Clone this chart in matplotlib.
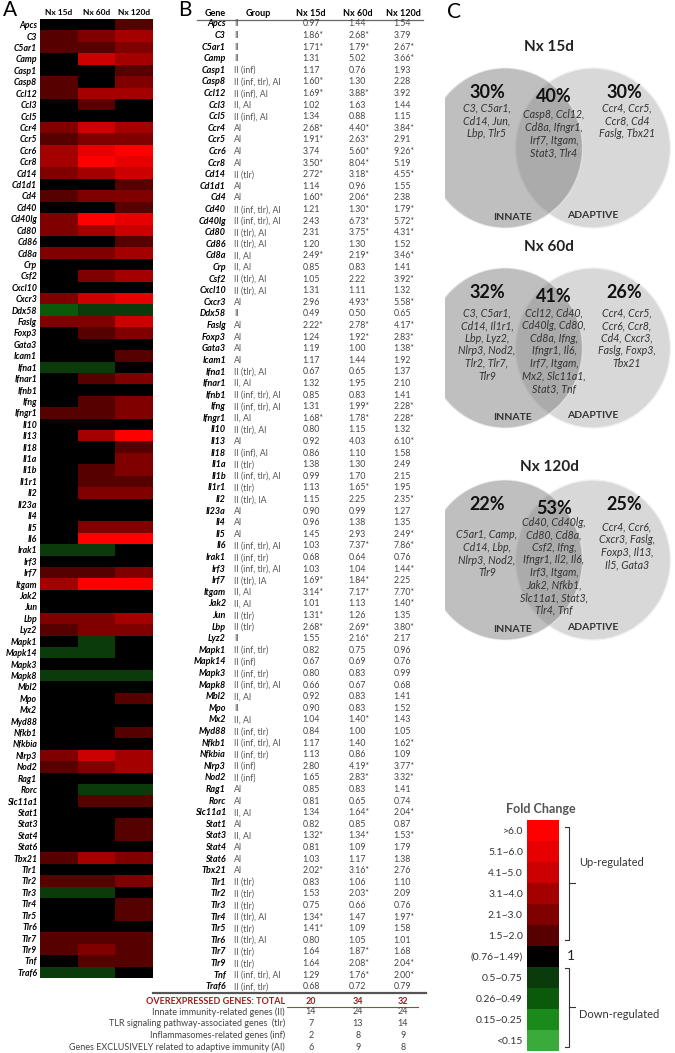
import numpy as np
import matplotlib
matplotlib.use('Agg')
import matplotlib.pyplot as plt
from matplotlib.colors import ListedColormap, BoundaryNorm
from matplotlib.patches import Ellipse

plt.rcParams['font.family'] = ['Lato', 'DejaVu Sans']

W, H = 675, 1053

# ---- data (panel A / B) ----
genes = ['Apcs', 'C3', 'C5ar1', 'Camp', 'Casp1', 'Casp8', 'Ccl12', 'Ccl3', 'Ccl5', 'Ccr4',
         'Ccr5', 'Ccr6', 'Ccr8', 'Cd14', 'Cd1d1', 'Cd4', 'Cd40', 'Cd40lg', 'Cd80', 'Cd86',
         'Cd8a', 'Crp', 'Csf2', 'Cxcl10', 'Cxcr3', 'Ddx58', 'Faslg', 'Foxp3', 'Gata3', 'Icam1',
         'Ifna1', 'Ifnar1', 'Ifnb1', 'Ifng', 'Ifngr1', 'Il10', 'Il13', 'Il18', 'Il1a', 'Il1b',
         'Il1r1', 'Il2', 'Il23a', 'Il4', 'Il5', 'Il6', 'Irak1', 'Irf3', 'Irf7', 'Itgam',
         'Jak2', 'Jun', 'Lbp', 'Lyz2', 'Mapk1', 'Mapk14', 'Mapk3', 'Mapk8', 'Mbl2', 'Mpo',
         'Mx2', 'Myd88', 'Nfkb1', 'Nfkbia', 'Nlrp3', 'Nod2', 'Rag1', 'Rorc', 'Slc11a1', 'Stat1',
         'Stat3', 'Stat4', 'Stat6', 'Tbx21', 'Tlr1', 'Tlr2', 'Tlr3', 'Tlr4', 'Tlr5', 'Tlr6',
         'Tlr7', 'Tlr9', 'Tnf', 'Traf6']

groups = ['II', 'II', 'II', 'II', 'II (inf)', 'II (inf, tlr), AI', 'II (inf), AI', 'II, AI', 'II (inf), AI', 'AI',
          'AI', 'AI', 'AI', 'II (tlr)', 'AI', 'AI', 'II (inf, tlr), AI', 'II (inf, tlr), AI', 'II (tlr), AI', 'II (tlr), AI',
          'II, AI', 'II, AI', 'II (tlr), AI', 'II (tlr), AI', 'AI', 'II', 'AI', 'AI', 'AI', 'AI',
          'II (tlr), AI', 'II, AI', 'II (inf, tlr), AI', 'II (inf, tlr), AI', 'II, AI', 'II (tlr), AI', 'AI', 'II (inf), AI', 'II (tlr)', 'II (inf, tlr), AI',
          'II (tlr)', 'II (tlr), IA', 'AI', 'AI', 'AI', 'II (inf, tlr), AI', 'II (inf, tlr)', 'II (inf, tlr), AI', 'II (tlr), IA', 'II, AI',
          'II, AI', 'II (tlr)', 'II (tlr)', 'II', 'II (inf, tlr)', 'II (inf)', 'II (inf, tlr)', 'II (inf, tlr), AI', 'II, AI', 'II',
          'II, AI', 'II (inf, tlr)', 'II (inf, tlr), AI', 'II (inf, tlr)', 'II (inf)', 'II (inf)', 'AI', 'AI', 'II, AI', 'AI',
          'II, AI', 'AI', 'AI', 'AI', 'II (tlr)', 'II (tlr)', 'II (tlr)', 'II (tlr), AI', 'II (tlr)', 'II (tlr), AI',
          'II (tlr)', 'II (tlr)', 'II (inf, tlr), AI', 'II (inf, tlr)']

# fold change, '*' = significant
nx15 = ['0.97', '1.86*', '1.71*', '1.31', '1.17', '1.60*', '1.69*', '1.02', '1.34', '2.68*',
        '1.91*', '3.74', '3.50*', '2.72*', '1.14', '1.60*', '1.21', '2.43', '2.31', '1.20',
        '2.49*', '0.85', '1.05', '1.31', '2.96', '0.49', '2.22*', '1.24', '1.19', '1.17',
        '0.67', '1.32', '0.85', '1.31', '1.68*', '0.80', '0.92', '0.86', '1.38', '0.99',
        '1.13', '1.15', '0.90', '0.96', '1.45', '1.03', '0.68', '1.03', '1.69*', '3.14*',
        '1.01', '1.31*', '2.68*', '1.55', '0.82', '0.67', '0.80', '0.66', '0.92', '0.90',
        '1.04', '0.84', '1.17', '1.13', '2.80', '1.65', '0.85', '0.81', '1.34', '0.82',
        '1.32*', '0.81', '1.03', '2.02*', '0.83', '1.53', '0.75', '1.34*', '1.41*', '0.80',
        '1.64', '1.64', '1.29', '0.68']
nx60 = ['1.44', '2.68*', '1.79*', '5.02', '0.76', '1.30', '3.88*', '1.63', '0.88', '4.40*',
        '2.63*', '5.60*', '8.04*', '3.18*', '0.96', '2.06*', '1.30*', '6.73*', '3.75*', '1.30',
        '2.19*', '0.83', '2.22', '1.11', '4.93*', '0.50', '2.78*', '1.92*', '1.00', '1.44',
        '0.65', '1.95', '0.83', '1.99*', '1.78*', '1.15', '4.03', '1.10', '1.30', '1.70',
        '1.65*', '2.25', '0.99', '1.38', '2.93', '7.37*', '0.64', '1.04', '1.84*', '7.17*',
        '1.13', '1.26', '2.69*', '2.16*', '0.75', '0.69', '0.83', '0.67', '0.83', '0.83',
        '1.40*', '1.00', '1.40', '0.86', '4.19*', '2.83*', '0.83', '0.65', '1.64*', '0.85',
        '1.34*', '1.09', '1.17', '3.16*', '1.06', '2.03*', '0.66', '1.47', '1.09', '1.05',
        '1.87*', '2.08*', '1.76*', '0.72']
nx120 = ['1.54', '3.79', '2.67*', '3.66*', '1.93', '2.28', '3.92', '1.44', '1.15', '3.84*',
         '2.91', '9.26*', '5.19', '4.55*', '1.55', '2.38', '1.79*', '5.72*', '4.31*', '1.52',
         '3.46*', '1.41', '3.92*', '1.32', '5.58*', '0.65', '4.17*', '2.83*', '1.38*', '1.92',
         '1.37', '2.10', '1.41', '2.28*', '2.28*', '1.32', '6.10*', '1.58', '2.49', '2.15',
         '1.95', '2.35*', '1.27', '1.35', '2.49*', '7.86*', '0.76', '1.44*', '2.25', '7.70*',
         '1.40*', '1.35', '3.80*', '2.17', '0.96', '0.76', '0.99', '0.68', '1.41', '1.52',
         '1.43', '1.05', '1.62*', '1.09', '3.77*', '3.32*', '1.41', '0.74', '2.04*', '0.87',
         '1.53*', '1.79', '1.38', '2.76', '1.10', '2.09', '0.76', '1.97*', '1.58', '1.01',
         '1.68', '2.04*', '2.00*', '0.79']

time_points = ['Nx 15d', 'Nx 60d', 'Nx 120d']
total_over = [20, 34, 32]
summary_labels = ['Innate immunity-related genes (II)',
                  'TLR signaling pathway-associated genes  (tlr)',
                  'Inflammasomes-related genes (inf)',
                  'Genes EXCLUSIVELY related to adaptive immunity (AI)']
summary_vals = [[14, 24, 24], [7, 13, 14], [2, 8, 9], [6, 9, 8]]

# fold change scale (low -> high)
fc_edges = [0, 0.15, 0.255, 0.495, 0.755, 1.495, 2.05, 3.05, 4.05, 5.05, 6.0, 100]
fc_colors = ['#3aaa3a', '#1a8a1a', '#0b5a0b', '#0b3a0b', '#000000',
             '#560000', '#800000', '#a50000', '#cc0000', '#e60000', '#ff0000']
fc_labels = ['<0.15', '0.15~0.25', '0.26~0.49', '0.5~0.75', '(0.76~1.49)',
             '1.5~2.0', '2.1~3.0', '3.1~4.0', '4.1~5.0', '5.1~6.0', '>6.0']

# ---- data (panel C) ----
venn_pct = [(30, 40, 30), (32, 41, 26), (22, 53, 25)]
venn_innate = [['C3, C5ar1,', 'Cd14, Jun,', 'Lbp, Tlr5'],
               ['C3, C5ar1,', 'Cd14, Il1r1,', 'Lbp, Lyz2,', 'Nlrp3, Nod2,', 'Tlr2, Tlr7,', 'Tlr9'],
               ['C5ar1, Camp,', 'Cd14, Lbp,', 'Nlrp3, Nod2,', 'Tlr9']]
venn_both = [['Casp8, Ccl12,', 'Cd8a, Ifngr1,', 'Irf7, Itgam,', 'Stat3, Tlr4'],
             ['Ccl12, Cd40,', 'Cd40lg, Cd80,', 'Cd8a, Ifng,', 'Ifngr1, Il6,', 'Irf7, Itgam,',
              'Mx2, Slc11a1,', 'Stat3, Tnf'],
             ['Cd40, Cd40lg,', 'Cd80, Cd8a,', 'Csf2, Ifng,', 'Ifngr1, Il2, Il6,', 'Irf3, Itgam,',
              'Jak2, Nfkb1,', 'Slc11a1, Stat3,', 'Tlr4, Tnf']]
venn_adaptive = [['Ccr4, Ccr5,', 'Ccr8, Cd4', 'Faslg, Tbx21'],
                 ['Ccr4, Ccr5,', 'Ccr6, Ccr8,', 'Cd4, Cxcr3,', 'Faslg, Foxp3,', 'Tbx21'],
                 ['Ccr4, Ccr6,', 'Cxcr3, Faslg,', 'Foxp3, Il13,', 'Il5, Gata3']]


def px(x, y, w, h):
    return [x / W, 1 - (y + h) / H, w / W, h / H]


fig = plt.figure(figsize=(W / 100, H / 100), dpi=100)
fig.patch.set_facecolor('white')

ov = fig.add_axes([0, 0, 1, 1])
ov.set_xlim(0, W)
ov.set_ylim(H, 0)
ov.axis('off')

cmap = ListedColormap(fc_colors)
norm = BoundaryNorm(fc_edges, cmap.N)

# ---- A: heatmap ----
vals = np.array([[float(s.rstrip('*')) for s in col] for col in (nx15, nx60, nx120)]).T
hm = fig.add_axes(px(40, 19, 113, 959))
hm.pcolormesh(vals, cmap=cmap, norm=norm)
hm.set_xlim(0, 3)
hm.set_ylim(len(genes), 0)
hm.set_yticks(np.arange(len(genes)) + 0.5, genes, fontsize=6.3,
              fontweight='bold', fontstyle='italic')
hm.xaxis.tick_top()
hm.set_xticks([0.5, 1.5, 2.5], time_points, fontsize=6, fontweight='bold')
hm.tick_params(length=0, pad=2)
for s in hm.spines.values():
    s.set_visible(False)

ov.text(3, 10, 'A', fontsize=15, va='center')
ov.text(178, 10, 'B', fontsize=15, va='center')
ov.text(447, 12, 'C', fontsize=15, va='center')

# ---- B: table ----
ov.text(226, 14, 'Gene', ha='right', va='center', fontsize=6.5, weight='bold')
ov.text(258, 14, 'Group', ha='center', va='center', fontsize=6.5, weight='bold')
for x, t in zip([311, 358, 403], time_points):
    ov.text(x, 14, t, ha='center', va='center', fontsize=6.5, weight='bold')
ov.plot([197, 423], [20, 20], color='#666666', lw=0.9)

row_y = 24 + np.arange(len(genes)) * 11.6
val_x = [302.5, 348.5, 393.5]
for i, g in enumerate(genes):
    y = row_y[i]
    ov.text(226, y, g, ha='right', va='center', fontsize=6.5, weight='bold', style='italic')
    ov.text(234, y, groups[i], ha='left', va='center', fontsize=6.3, color='#555555')
    for x, col in zip(val_x, (nx15, nx60, nx120)):
        ov.text(x, y, col[i], ha='left', va='center', fontsize=6.3, color='#444444')

ov.plot([153, 426], [993, 993], color='#555555', lw=1.6)
ov.text(285, 1001, 'OVEREXPRESSED GENES: TOTAL', ha='right', va='center',
        fontsize=6.5, weight='bold', color='#9e1b1b')
for x, v in zip([311, 358, 403], total_over):
    ov.text(x, 1001, str(v), ha='center', va='center', fontsize=6.5, weight='bold', color='#9e1b1b')
ov.plot([287, 418], [1006.5, 1006.5], color='#b04040', lw=0.8)
for k, (lab, sv) in enumerate(zip(summary_labels, summary_vals)):
    y = 1012 + k * 11.7
    ov.text(285, y, lab, ha='right', va='center', fontsize=6.5, color='#444444')
    for x, v in zip([311, 358, 403], sv):
        ov.text(x, y, str(v), ha='center', va='center', fontsize=6.5, color='#444444')

# ---- C: venn diagrams ----
vc = fig.add_axes(px(445, 0, 230, H))
vc.set_xlim(445, 675)
vc.set_ylim(H, 0)
vc.axis('off')

venn_cy = [148, 348, 560]
title_y = [47, 247, 467]
text_top = [(108, 115, 108), (313, 313, 313), (535, 522, 527)]
for k in range(3):
    cy = venn_cy[k]
    vc.add_patch(Ellipse((593, cy), 155, 160, fc='#d8d8d8', ec='#f2f2f2', lw=1))
    vc.add_patch(Ellipse((505, cy), 155, 160, fc='#808080', ec='#f2f2f2', lw=1, alpha=0.5))
    vc.text(549, title_y[k], time_points[k], ha='center', va='center',
            fontsize=11, weight='bold', color='#222222')
    p1, p2, p3 = venn_pct[k]
    vc.text(487, cy - 55, f'{p1}%', ha='center', va='center', fontsize=13, weight='bold', color='#111111')
    vc.text(554, cy - 51, f'{p2}%', ha='center', va='center', fontsize=13, weight='bold', color='#111111')
    vc.text(624, cy - 55, f'{p3}%', ha='center', va='center', fontsize=13, weight='bold', color='#111111')
    for x, lines, top in zip([487, 554, 627], [venn_innate[k], venn_both[k], venn_adaptive[k]], text_top[k]):
        for j, line in enumerate(lines):
            vc.text(x, top + j * 12.6, line, ha='center', va='center', fontsize=7.7,
                    style='italic', color='#333333')
    vc.text(513, cy + 70, 'INNATE', ha='center', va='center', fontsize=7.5, weight='bold', color='#333333')
    vc.text(593, cy + 68, 'ADAPTIVE', ha='center', va='center', fontsize=7.5, weight='bold', color='#333333')

# ---- fold change legend ----
vc.text(541, 809, 'Fold Change', ha='center', va='center', fontsize=9, weight='bold', color='#555555')
lg = fig.add_axes(px(527, 820, 32, 231))
lg.imshow(np.arange(len(fc_colors))[::-1].reshape(-1, 1), cmap=cmap,
          vmin=-0.5, vmax=len(fc_colors) - 0.5, aspect='auto')
lg.set_xticks([])
lg.set_yticks(np.arange(len(fc_labels)), fc_labels[::-1], fontsize=7.5, color='#333333')
lg.tick_params(length=0, pad=3)
for s in lg.spines.values():
    s.set_visible(False)

vc.text(567, 956, '1', ha='left', va='center', fontsize=10, color='#222222')
# brackets
vc.plot([565, 569, 569, 565], [827, 827, 940, 940], color='#333333', lw=0.8)
vc.plot([569, 575], [883, 883], color='#333333', lw=0.8)
vc.text(579, 863, 'Up-regulated', ha='left', va='center', fontsize=8, color='#333333')
vc.plot([565, 569, 569, 565], [968, 968, 1047, 1047], color='#333333', lw=0.8)
vc.plot([569, 575], [1007, 1007], color='#333333', lw=0.8)
vc.text(579, 1015, 'Down-regulated', ha='left', va='center', fontsize=8, color='#333333')

fig.savefig('out.png', dpi=100, facecolor='white')
